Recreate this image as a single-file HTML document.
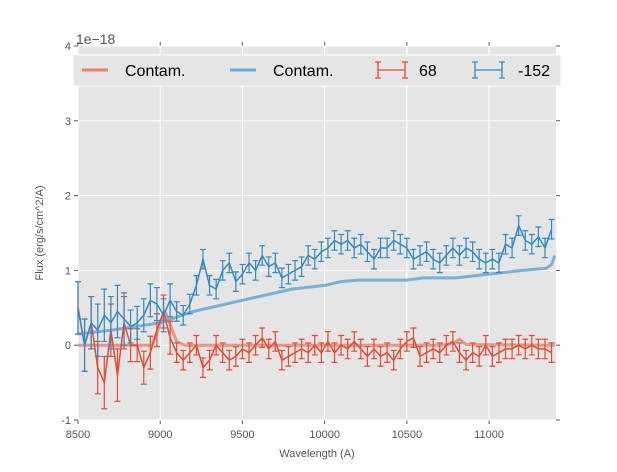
<!DOCTYPE html>
<html><head><meta charset="utf-8"><style>
body{margin:0;background:#fff}
svg{font-family:"Liberation Sans",sans-serif}
</style></head><body>
<svg id="c" width="617" height="467" xmlns="http://www.w3.org/2000/svg"></svg>
<script>
const wl=[];for(let w=8500;w<=11380;w+=40)wl.push(w);
const blueFlux=[0.5,0.0,0.3,0.2,0.4,0.3,0.45,0.35,0.25,0.3,0.4,0.6,0.55,0.4,0.6,0.45,0.4,0.55,0.8,1.15,0.8,0.75,1.0,1.1,0.85,0.95,1.1,1.0,1.2,1.05,1.1,0.9,0.95,1.0,1.05,1.2,1.15,1.25,1.3,1.4,1.35,1.4,1.3,1.35,1.25,1.15,1.3,1.3,1.4,1.35,1.3,1.15,1.2,1.25,1.15,1.1,1.2,1.3,1.2,1.3,1.25,1.15,1.1,1.15,1.1,1.35,1.3,1.6,1.4,1.35,1.45,1.3,1.55];
const redFlux=[0.5,0.0,0.3,-0.3,-0.5,0.2,-0.4,0.3,0.0,0.0,-0.3,-0.1,0.2,0.45,0.1,-0.1,-0.2,-0.1,0.0,-0.3,-0.2,0.0,-0.1,-0.2,-0.15,-0.05,-0.1,0.0,0.1,-0.05,0.05,-0.2,-0.15,-0.1,-0.05,-0.1,0.0,-0.1,0.05,-0.1,0.0,-0.05,0.05,-0.05,-0.15,-0.05,-0.15,-0.1,-0.2,-0.05,0.05,0.1,-0.15,-0.1,-0.05,-0.1,0.0,0.05,-0.1,-0.2,-0.1,-0.15,0.0,-0.15,-0.1,-0.05,-0.05,0.0,-0.05,0.0,-0.05,-0.05,-0.1];
const redContX=[8500,8950,9030,9100,9150,10700,10780,10820,10860,11400];
const redContY=[0,0,0.45,0.05,0,0,0.02,0.08,0.01,0];
const blueContX=[8500,8700,9000,9200,9500,9800,10000,10100,10200,10500,10600,10800,11000,11200,11350,11380,11400];
const blueContY=[0.15,0.2,0.3,0.45,0.6,0.75,0.8,0.85,0.87,0.87,0.9,0.9,0.95,1.0,1.03,1.08,1.2];
const xTicks=[8500,9000,9500,10000,10500,11000];
const yTicks=[-1,0,1,2,3,4];
const X0=78,X1=556,Y0=420,Y1=46,XMIN=8500,XMAX=11407,YMIN=-1,YMAX=4;
const sx=v=>X0+(v-XMIN)/(XMAX-XMIN)*(X1-X0);
const sy=v=>Y0-(v-YMIN)/(YMAX-YMIN)*(Y0-Y1);
const svg=document.getElementById('c');const NS='http://www.w3.org/2000/svg';
function mk(t,a,p){const e=document.createElementNS(NS,t);for(const k in a)e.setAttribute(k,a[k]);(p||svg).appendChild(e);return e;}
const bg=mk('rect',{x:X0,y:Y1,width:X1-X0,height:Y0-Y1,fill:'#e5e5e5'});


xTicks.forEach(t=>{const x=sx(t);
 const g=mk('line',{x1:x,x2:x,y1:Y1,y2:Y0,stroke:'#fff','stroke-width':1});
 
 mk('line',{x1:x,x2:x,y1:Y0,y2:Y0+4,stroke:'#555'});mk('line',{x1:x,x2:x,y1:Y1,y2:Y1-4,stroke:'#555'});
 const l=mk('text',{x:x,y:Y0+18,'font-size':11,fill:'#555','text-anchor':'middle'});l.textContent=t;
 });
yTicks.forEach(t=>{const y=sy(t);
 const g=mk('line',{x1:X0,x2:X1,y1:y,y2:y,stroke:'#fff','stroke-width':1});
 
 mk('line',{x1:X0-4,x2:X0,y1:y,y2:y,stroke:'#555'});mk('line',{x1:X1,x2:X1+4,y1:y,y2:y,stroke:'#555'});
 const l=mk('text',{x:X0-7,y:y+4,'font-size':11,fill:'#555','text-anchor':'end'});l.textContent=t;
 });
function line(xs,ys,col,w,op,name){const d=xs.map((x,i)=>(i?'L':'M')+sx(x).toFixed(1)+','+sy(ys[i]).toFixed(1)).join('');
 const p=mk('path',{d:d,fill:'none',stroke:col,'stroke-width':w,opacity:op,'stroke-linejoin':'round'});
 }
line(redContX,redContY,'#e8806c',3,0.8,'red-contam-line');
line(blueContX,blueContY,'#6fa8d0',3,0.9,'blue-contam-line');
function errs(ys,col,name){const g=mk('g',{stroke:col,'stroke-width':1.2,fill:'none'});
 
 ys.forEach((v,i)=>{const w=wl[i];const e=w<8800?0.35:(w<9100?0.22:0.13);const x=sx(w);
  mk('path',{d:`M${x},${sy(v-e)}L${x},${sy(v+e)}M${x-3},${sy(v-e)}L${x+3},${sy(v-e)}M${x-3},${sy(v+e)}L${x+3},${sy(v+e)}`},g);});
 line(wl,ys,col,1.5,1,name+'-line');}
errs(redFlux,'#e24a33','red-series');
errs(blueFlux,'#348abd','blue-series');
const leg=mk('g',{});
mk('rect',{x:73,y:55,width:488,height:31,fill:'#e5e5e5',stroke:'#fff','stroke-width':1},leg);
mk('line',{x1:82,x2:108,y1:70,y2:70,stroke:'#e8806c','stroke-width':3},leg);
mk('line',{x1:230,x2:256,y1:70,y2:70,stroke:'#6fa8d0','stroke-width':3},leg);
[[378,'#e24a33'],[475,'#348abd']].forEach(([x,c])=>mk('path',{d:`M${x},62L${x},78M${x+27},62L${x+27},78M${x},70L${x+27},70M${x-3},62L${x+3},62M${x-3},78L${x+3},78M${x+24},62L${x+30},62M${x+24},78L${x+30},78`,stroke:c,'stroke-width':1.3,fill:'none'},leg));
[[125,'Contam.'],[273,'Contam.'],[419,'68'],[518,'-152']].forEach(([x,t])=>{const e=mk('text',{x:x,y:76,'font-size':16,fill:'#000'},leg);e.textContent=t;
 });
const off=mk('text',{x:76,y:44,'font-size':14,fill:'#555'});off.textContent='1e\u221218';

const xl=mk('text',{x:317,y:457,'font-size':11,fill:'#555','text-anchor':'middle'});xl.textContent='Wavelength (A)';

const yl=mk('text',{x:0,y:0,'font-size':11,fill:'#555','text-anchor':'middle',transform:'translate(43,233) rotate(-90)'});yl.textContent='Flux (erg/s/cm^2/A)';

</script>
</body></html>
